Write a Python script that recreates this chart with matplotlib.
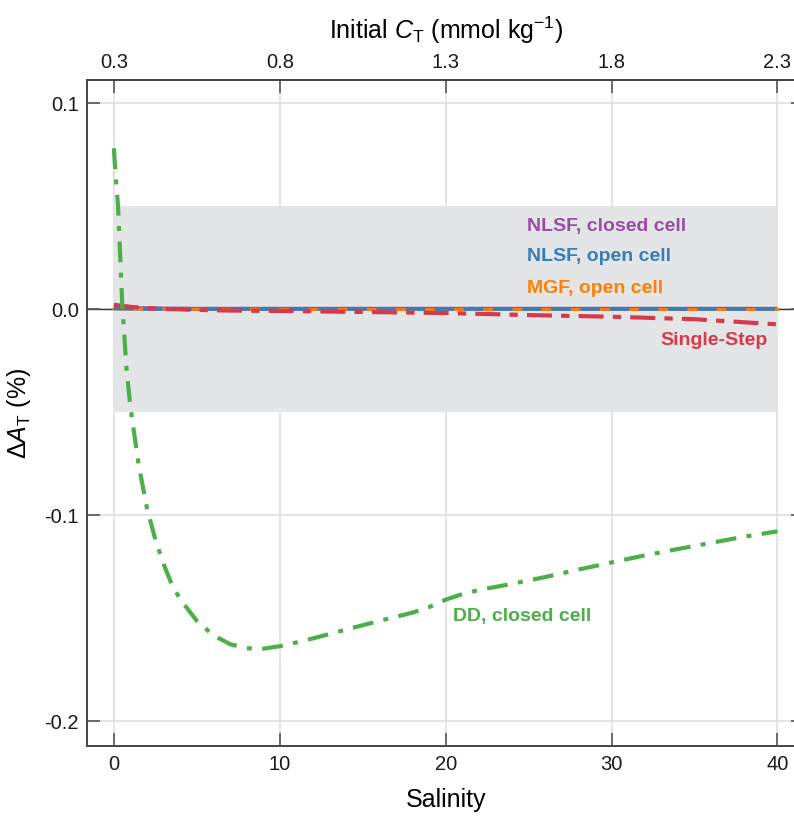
import matplotlib
matplotlib.use("Agg")
import matplotlib.pyplot as plt
import numpy as np

# ---------------- data ----------------
salinity_dd = [0, 0.1, 0.25, 0.5, 0.75, 1.0, 1.5, 2, 2.5, 3, 3.5, 4, 5, 6, 7, 8, 9, 10, 11, 12,
               14, 16, 18, 19, 20, 21, 22, 24, 26, 28, 30, 32, 34, 36, 38, 40]
dd_closed = [0.078, 0.065, 0.050, 0.003, -0.028, -0.048, -0.076, -0.097, -0.112, -0.124,
             -0.134, -0.141, -0.1515, -0.1585, -0.1628, -0.1648, -0.1650, -0.1638, -0.1620,
             -0.1600, -0.1557, -0.1515, -0.1475, -0.1448, -0.1412, -0.1385, -0.1365,
             -0.1335, -0.1302, -0.1266, -0.1231, -0.1197, -0.1166, -0.1136, -0.1106, -0.108]

salinity = [0, 1, 2, 3, 5, 7, 10, 15, 20, 25, 30, 35, 40]
single_step = [0.002, 0.001, 0.0004, 0.0, -0.0005, -0.0008, -0.001, -0.0015, -0.002,
               -0.003, -0.0038, -0.005, -0.0075]
nlsf_closed = [0.0005, 0.0003, 0.0002, 0.0001, 0.0, 0.0, 0.0, 0.0, 0.0, 0.0, 0.0, 0.0, 0.0]
nlsf_open = [0.0003, 0.0002, 0.0001, 0.0001, 0.0, 0.0, 0.0, 0.0, 0.0, 0.0, 0.0, 0.0, 0.0]
mgf_open = [0.0, 0.0, 0.0, -0.0001, -0.0002, -0.0003, -0.0003, -0.0003, -0.0003,
            -0.0003, -0.0003, -0.0003, -0.0003]

x_ticks = [0, 10, 20, 30, 40]
ct_ticks = [0.3, 0.8, 1.3, 1.8, 2.3]
y_ticks = [0.1, 0.0, -0.1, -0.2]
y_ticklabels = ["0.1", "0.0", "-0.1", "-0.2"]
band = (-0.05, 0.05)

c_purple = "#984ea3"
c_blue = "#377eb8"
c_orange = "#ff7f00"
c_red = "#d63a4a"
c_green = "#4daf4a"

plt.rcParams['font.family'] = ['Liberation Sans', 'DejaVu Sans']
plt.rcParams['axes.unicode_minus'] = False
plt.rcParams['mathtext.fontset'] = 'custom'
plt.rcParams['mathtext.rm'] = 'Liberation Sans'
plt.rcParams['mathtext.it'] = 'Liberation Sans:italic'

fig = plt.figure(figsize=(7.94, 8.2), dpi=100)
ax = fig.add_axes([0.110, 0.0894, 1.0126 - 0.110, 0.9016 - 0.0894])

ax.set_xlim(-1.6, 41.6)
ax.set_ylim(-0.2121, 0.1113)

# grid
for xv in x_ticks:
    ax.axvline(xv, color="#e2e2e2", lw=1.3, zorder=0)
for yv in y_ticks:
    ax.axhline(yv, color="#e2e2e2", lw=1.3, zorder=0)

# band
ax.fill_between([x_ticks[0], x_ticks[-1]], band[0], band[1], color="#e4e5e7", lw=0, zorder=0.5)

# zero line
ax.axhline(0, color="#333333", lw=1.0, zorder=1)

# lines
ax.plot(salinity, nlsf_closed, color=c_purple, lw=3, zorder=2, solid_capstyle="butt")
ax.plot(salinity, mgf_open, color=c_orange, lw=2.0, zorder=3)
ax.plot(salinity, nlsf_open, color=c_blue, lw=2.8, dashes=(5, 2.5), zorder=4)
ax.plot(salinity, single_step, color=c_red, lw=3.0, dashes=(6, 2.2, 2, 2.2), zorder=5)
ax.plot(salinity_dd, dd_closed, color=c_green, lw=3.0, dashes=(5, 2.5, 1.2, 2.5), zorder=6)

# labels on the curves
tkw = dict(fontsize=14, fontweight="bold", family=["Liberation Sans", "DejaVu Sans"], va="center")
ax.text(24.9, 0.0403, "NLSF, closed cell", color=c_purple, ha="left", **tkw)
ax.text(24.9, 0.0257, "NLSF, open cell", color=c_blue, ha="left", **tkw)
ax.text(24.9, 0.0106, "MGF, open cell", color=c_orange, ha="left", **tkw)
ax.text(39.4, -0.0151, "Single-Step", color=c_red, ha="right", **tkw)
ax.text(20.45, -0.149, "DD, closed cell", color=c_green, ha="left", **tkw)

# axes styling
for side in ["left", "top", "bottom", "right"]:
    ax.spines[side].set_color("#444444")
    ax.spines[side].set_linewidth(1.4)

ax.set_xticks(x_ticks)
ax.set_yticks(y_ticks)
ax.set_yticklabels(y_ticklabels)
ax.tick_params(direction="in", length=9.5, width=1.2, color="#555555",
               labelsize=14.5, labelcolor="#1a1a1a", right=True, pad=6)

sec = ax.secondary_xaxis("top", functions=(lambda s: 0.3 + 0.05 * np.asarray(s),
                                           lambda c: (np.asarray(c) - 0.3) / 0.05))
sec.set_xticks(ct_ticks)
sec.set_xticklabels([f"{v:.1f}" for v in ct_ticks])
sec.tick_params(direction="in", length=9.5, width=1.2, color="#555555",
                labelsize=14.5, labelcolor="#1a1a1a", pad=6)
sec.spines["top"].set_color("#444444")
sec.spines["top"].set_linewidth(1.4)
sec.set_xlabel(r"Initial $C_\mathrm{T}$ (mmol kg$^{-1}$)", fontsize=18, labelpad=10)

ax.set_xlabel("Salinity", fontsize=18, labelpad=10)
ax.set_ylabel(r"$\Delta A_\mathrm{T}$ (%)", fontsize=18, labelpad=8)

fig.savefig("out.png", dpi=100)
